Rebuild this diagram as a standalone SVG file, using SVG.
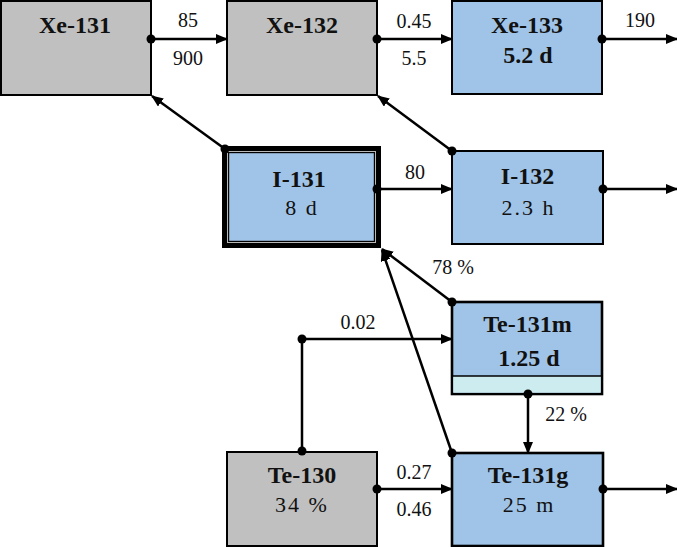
<svg xmlns="http://www.w3.org/2000/svg" width="677" height="547" viewBox="0 0 677 547">
<defs>
<style>
.box{stroke:#000;stroke-width:2}
.gray{fill:#c0c0c0}
.blue{fill:#a0c4e8}
.thick{stroke-width:2.6}
.t{font-family:"Liberation Serif","Times New Roman",serif;text-anchor:middle;fill:#111}
.b{font-weight:bold;font-size:24px}
.n{font-size:22px;letter-spacing:2px}
.l{font-size:20px}
.c{stroke:#000;stroke-width:2.5;fill:none}
.a{marker-end:url(#arr)}
.d{fill:#000}
</style>
<marker id="arr" viewBox="0 0 12 10" refX="11" refY="5" markerWidth="12" markerHeight="10" markerUnits="userSpaceOnUse" orient="auto">
<path d="M0,0 L12,5 L0,10 Z" fill="#000"/>
</marker>
</defs>
<rect width="677" height="547" fill="#fff"/>
<g id="xe131">
<rect class="box gray" x="1" y="1" width="150" height="94"/>
<text class="t b" x="75" y="33">Xe-131</text>
</g>
<g id="xe132">
<rect class="box gray" x="227" y="1" width="150" height="94"/>
<text class="t b" x="302" y="33">Xe-132</text>
</g>
<g id="xe133">
<rect class="box blue" x="452" y="1" width="150" height="93"/>
<text class="t b" x="527" y="33">Xe-133</text>
<text class="t b" x="528" y="63">5.2 d</text>
</g>
<g id="i131">
<rect x="224.5" y="148.5" width="154" height="97" fill="#a0c4e8" stroke="#000" stroke-width="5"/>
<rect x="227.5" y="151.5" width="148" height="91" fill="none" stroke="#b8b8b8" stroke-width="1"/>
<rect x="228.6" y="152.6" width="145.8" height="88.8" fill="none" stroke="#000" stroke-width="1.2"/>
<text class="t b" x="299" y="187">I-131</text>
<text class="t n" x="302" y="215">8 d</text>
</g>
<g id="i132">
<rect class="box blue" x="452" y="151" width="151" height="93"/>
<text class="t b" x="527.5" y="184">I-132</text>
<text class="t n" x="528.5" y="215">2.3 h</text>
</g>
<g id="te131m">
<rect class="box blue thick" x="452" y="302" width="150" height="92"/>
<rect x="453.3" y="376" width="147.4" height="16.7" fill="#cdecef"/>
<line x1="452" y1="376" x2="602" y2="376" stroke="#000" stroke-width="1.5"/>
<text class="t b" x="527.5" y="332">Te-131m</text>
<text class="t b" x="529" y="366">1.25 d</text>
</g>
<g id="te130">
<rect class="box gray" x="227" y="452" width="150" height="94"/>
<text class="t b" x="302" y="483">Te-130</text>
<text class="t n" x="302" y="512">34 %</text>
</g>
<g id="te131g">
<rect class="box blue thick" x="452" y="453" width="151" height="93"/>
<text class="t b" x="528" y="483">Te-131g</text>
<text class="t n" x="529" y="512">25 m</text>
</g>
<g id="connectors">
<line class="c a" x1="151" y1="39" x2="227" y2="39"/>
<line class="c a" x1="377" y1="39" x2="452" y2="39"/>
<line class="c a" x1="602" y1="39" x2="677" y2="39"/>
<line class="c a" x1="225" y1="149" x2="152" y2="96"/>
<line class="c a" x1="452" y1="151" x2="378" y2="96"/>
<line class="c a" x1="378" y1="189" x2="452" y2="189"/>
<line class="c a" x1="603" y1="189" x2="677" y2="189"/>
<line class="c a" x1="452" y1="302" x2="382" y2="249"/>
<line class="c a" x1="452" y1="453" x2="382" y2="250"/>
<polyline class="c a" points="302,451 302,339 452,339"/>
<line class="c a" x1="377" y1="489" x2="452" y2="489"/>
<line class="c a" x1="528" y1="394" x2="528" y2="453"/>
<line class="c a" x1="603" y1="489" x2="677" y2="489"/>
<circle class="d" cx="151" cy="39" r="4.5"/>
<circle class="d" cx="377" cy="39" r="4.5"/>
<circle class="d" cx="602" cy="39" r="4.5"/>
<circle class="d" cx="225" cy="149" r="4.5"/>
<circle class="d" cx="452" cy="151" r="4.5"/>
<circle class="d" cx="377" cy="189" r="4.5"/>
<circle class="d" cx="603" cy="189" r="4.5"/>
<circle class="d" cx="452" cy="302" r="4.5"/>
<circle class="d" cx="452" cy="453" r="4.5"/>
<circle class="d" cx="302" cy="451" r="4.5"/>
<circle class="d" cx="302" cy="339" r="4.5"/>
<circle class="d" cx="377" cy="489" r="4.5"/>
<circle class="d" cx="528" cy="394" r="4.5"/>
<circle class="d" cx="603" cy="489" r="4.5"/>
<text class="t l" x="188" y="27">85</text>
<text class="t l" x="188" y="65">900</text>
<text class="t l" x="414" y="28">0.45</text>
<text class="t l" x="414" y="65">5.5</text>
<text class="t l" x="640" y="27">190</text>
<text class="t l" x="415" y="179">80</text>
<text class="t l" x="453" y="274">78 %</text>
<text class="t l" x="358" y="329">0.02</text>
<text class="t l" x="566" y="421">22 %</text>
<text class="t l" x="414" y="479">0.27</text>
<text class="t l" x="414" y="516">0.46</text>
</g>
</svg>
